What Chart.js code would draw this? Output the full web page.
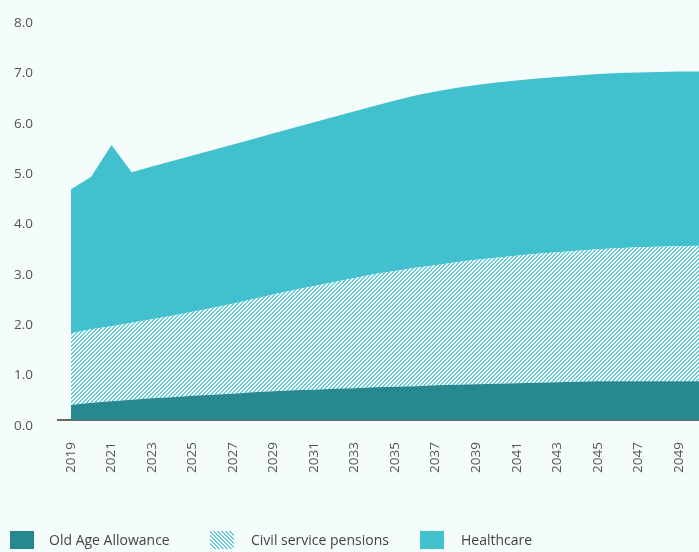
<!DOCTYPE html>
<html>
<head>
<meta charset="utf-8">
<script src="https://cdn.jsdelivr.net/npm/chart.js@4/dist/chart.umd.min.js"></script>
<style>
  html, body { margin: 0; padding: 0; background: #f4fcfc; overflow: hidden; }
  #wrap { position: relative; width: 699px; height: 552px; }
  #c { position: absolute; left: 0; top: 0; }
  .lg { position: absolute; top: 531px; height: 18px; font-family: "Open Sans", sans-serif; font-size: 14px; color: #444; }
  .lg .sw { position: absolute; left: 0; top: 0; width: 24px; height: 18px; }
  .lg .tx { position: absolute; top: 0; line-height: 18px; white-space: nowrap; }
</style>
</head>
<body>
<div id="wrap">
  <canvas id="c" width="699" height="552"></canvas>
</div>
<script>
// ---- data ----
const years = [2019,2020,2021,2022,2023,2024,2025,2026,2027,2028,2029,2030,2031,2032,2033,2034,2035,2036,2037,2038,2039,2040,2041,2042,2043,2044,2045,2046,2047,2048,2049,2050];
const tickYears = [2019,2021,2023,2025,2027,2029,2031,2033,2035,2037,2039,2041,2043,2045,2047,2049];
const yTicks = [0,1,2,3,4,5,6,7,8];
const oldAgeAllowance = [0.30,0.34,0.37,0.40,0.43,0.45,0.48,0.50,0.52,0.55,0.57,0.59,0.60,0.62,0.63,0.65,0.66,0.67,0.69,0.70,0.71,0.72,0.73,0.74,0.75,0.76,0.77,0.77,0.77,0.77,0.77,0.77];
const civilServicePensions = [1.42,1.46,1.49,1.53,1.57,1.62,1.67,1.73,1.79,1.85,1.92,1.99,2.06,2.12,2.19,2.25,2.30,2.35,2.38,2.43,2.47,2.50,2.53,2.56,2.58,2.60,2.62,2.64,2.66,2.67,2.68,2.69];
const healthcare = [2.86,3.03,3.60,2.99,3.03,3.07,3.10,3.13,3.16,3.18,3.20,3.22,3.25,3.28,3.31,3.34,3.38,3.42,3.45,3.46,3.47,3.48,3.48,3.48,3.48,3.48,3.48,3.48,3.47,3.47,3.47,3.46];
const seriesNames = ["Old Age Allowance", "Civil service pensions", "Healthcare"];

// ---- styles ----
const COL_OLD = "#288890";
const COL_HC = "#40c1cd";
const COL_STRIPE = [104, 204, 219];

function makeHatch() {
  const t = document.createElement("canvas");
  t.width = 4; t.height = 4;
  const g = t.getContext("2d");
  const img = g.createImageData(4, 4);
  for (let y = 0; y < 4; y++) {
    for (let x = 0; x < 4; x++) {
      const k = (y * 4 + x) * 4;
      const on = ((x + y) % 4) < 2;
      const c = on ? COL_STRIPE : [255, 255, 255];
      img.data[k] = c[0]; img.data[k + 1] = c[1]; img.data[k + 2] = c[2]; img.data[k + 3] = 255;
    }
  }
  g.putImageData(img, 0, 0);
  return document.getElementById("c").getContext("2d").createPattern(t, "repeat");
}
const hatch = makeHatch();

const pts = arr => years.map((y, i) => ({ x: y, y: arr[i] }));
const zeroPad = s => { s.paddingLeft = 0; s.paddingRight = 0; s.paddingTop = 0; s.paddingBottom = 0; };

const chart = new Chart(document.getElementById("c"), {
  type: "line",
  data: {
    datasets: [
      { label: seriesNames[0], data: pts(oldAgeAllowance), backgroundColor: COL_OLD, borderWidth: 0, pointRadius: 0, fill: "origin", tension: 0 },
      { label: seriesNames[1], data: pts(civilServicePensions), backgroundColor: hatch, borderWidth: 0, pointRadius: 0, fill: "-1", tension: 0 },
      { label: seriesNames[2], data: pts(healthcare), backgroundColor: COL_HC, borderWidth: 0, pointRadius: 0, fill: "-1", tension: 0 }
    ]
  },
  options: {
    responsive: false,
    animation: false,
    layout: { padding: { top: 17, right: 0, left: 0, bottom: 0 } },
    plugins: { legend: { display: false }, tooltip: { enabled: false } },
    scales: {
      x: {
        type: "linear",
        min: 2018.36,
        max: 2050,
        grid: { display: false, drawTicks: false },
        border: { display: true, color: "#666666", width: 2 },
        afterBuildTicks: s => { s.ticks = tickYears.map(v => ({ value: v })); },
        afterFit: s => { s.height = 132; zeroPad(s); },
        ticks: {
          autoSkip: false,
          minRotation: 90,
          maxRotation: 90,
          padding: 22,
          color: "#555555",
          font: { family: "Open Sans", size: 13.5 },
          callback: v => String(v)
        }
      },
      y: {
        stacked: true,
        min: 0,
        max: 8,
        grid: { display: false, drawTicks: false },
        border: { display: false },
        afterBuildTicks: s => { s.ticks = yTicks.map(v => ({ value: v })); },
        afterFit: s => { s.width = 58; zeroPad(s); },
        ticks: {
          padding: 25,
          labelOffset: 6,
          color: "#555555",
          font: { family: "Open Sans", size: 13.5 },
          callback: v => Number(v).toFixed(1)
        }
      }
    }
  }
});

// ---- legend (HTML, built from the datasets) ----
const legendPos = [{ box: 10, text: 49 }, { box: 210, text: 251 }, { box: 420, text: 461 }];
const wrap = document.getElementById("wrap");
chart.data.datasets.forEach((ds, i) => {
  const item = document.createElement("div");
  item.className = "lg";
  item.style.left = legendPos[i].box + "px";
  const sw = document.createElement("div");
  sw.className = "sw";
  if (i === 1) {
    sw.style.background = "repeating-linear-gradient(45deg, rgb(" + COL_STRIPE.join(",") + ") 0 1.4px, #ffffff 1.4px 2.9px)";
  } else {
    sw.style.background = ds.backgroundColor;
  }
  const tx = document.createElement("div");
  tx.className = "tx";
  tx.style.left = (legendPos[i].text - legendPos[i].box) + "px";
  tx.textContent = ds.label;
  item.appendChild(sw);
  item.appendChild(tx);
  wrap.appendChild(item);
});
</script>
</body>
</html>
